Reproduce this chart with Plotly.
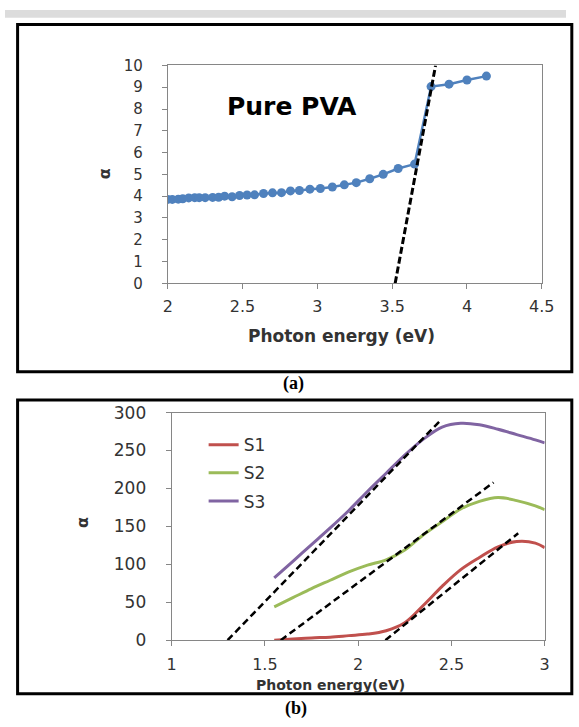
import plotly.graph_objects as go

# ---------------- data: panel (a) pure PVA ----------------
pva_energy = [2.00, 2.03, 2.07, 2.10, 2.14, 2.18, 2.21, 2.25, 2.30, 2.34, 2.38,
              2.43, 2.48, 2.53, 2.58, 2.64, 2.70, 2.76, 2.82, 2.88, 2.95, 3.02,
              3.10, 3.18, 3.26, 3.35, 3.44, 3.54, 3.65, 3.76, 3.88, 4.00, 4.13]
pva_alpha = [3.85, 3.85, 3.86, 3.88, 3.92, 3.93, 3.93, 3.93, 3.94, 3.95, 4.00,
             3.97, 4.03, 4.05, 4.06, 4.12, 4.15, 4.16, 4.24, 4.26, 4.32, 4.35,
             4.42, 4.52, 4.62, 4.80, 5.00, 5.27, 5.47, 9.03, 9.14, 9.33, 9.51]
pva_fit_energy = [3.52, 3.79]
pva_fit_alpha = [0, 10]

# ---------------- data: panel (b) S1, S2, S3 ----------------
energy_b = [1.55, 1.65, 1.75, 1.85, 1.95, 2.05, 2.15, 2.25, 2.35, 2.45,
            2.55, 2.65, 2.75, 2.85, 2.95, 3.00]
s1_alpha = [0, 1.5, 3, 4, 6, 8, 12.5, 23, 46, 71, 93, 109, 123, 130, 128, 122]
s2_alpha = [44, 56, 68, 79, 90, 99, 106, 119, 139, 156, 173, 183, 188, 184, 177, 172]
s3_alpha = [82, 104, 126, 148, 171, 196, 220, 244, 265, 281, 286, 284, 278, 271, 264, 260]
series_names = ["S1", "S2", "S3"]

s1_fit_energy = [2.146, 2.858]
s1_fit_alpha = [0, 141]
s2_fit_energy = [1.585, 2.726]
s2_fit_alpha = [0, 208]
s3_fit_energy = [1.30, 2.446]
s3_fit_alpha = [0, 291]

W, H = 579, 727


def px(x):
    return x / W


def py(y):
    return 1 - y / H


BLUE = "#4F81BD"
RED = "#C0504D"
GREEN = "#9BBB59"
PURPLE = "#8064A2"
AXIS = "#868686"
TXT = "#333333"
FONT = "DejaVu Sans"

fig = go.Figure()

# panel (a)
fig.add_trace(go.Scatter(
    x=pva_energy, y=pva_alpha, mode="lines+markers",
    line=dict(color=BLUE, width=2.5), marker=dict(color=BLUE, size=9),
    showlegend=False, xaxis="x", yaxis="y"))
fig.add_trace(go.Scatter(
    x=pva_fit_energy, y=pva_fit_alpha, mode="lines",
    line=dict(color="black", width=3, dash="7px,3px"),
    showlegend=False, xaxis="x", yaxis="y"))

# panel (b)
for name, vals, col in zip(series_names, [s1_alpha, s2_alpha, s3_alpha], [RED, GREEN, PURPLE]):
    fig.add_trace(go.Scatter(
        x=energy_b, y=vals, mode="lines", name=name, legendgroup=name,
        line=dict(color=col, width=3, shape="spline", smoothing=1),
        xaxis="x2", yaxis="y2"))
for fx, fy in [(s1_fit_energy, s1_fit_alpha), (s2_fit_energy, s2_fit_alpha), (s3_fit_energy, s3_fit_alpha)]:
    fig.add_trace(go.Scatter(
        x=fx, y=fy, mode="lines", showlegend=False,
        line=dict(color="black", width=2.5, dash="7px,4px"),
        xaxis="x2", yaxis="y2"))

axis_common = dict(showline=True, linecolor=AXIS, linewidth=1, mirror=True,
                   showgrid=False, zeroline=False, ticks="outside", tickcolor=AXIS,
                   ticklen=5, fixedrange=True)

def ann(text, x, y, size, color=TXT, family=FONT, angle=0):
    return dict(text=text, x=px(x), y=py(y), xref="paper", yref="paper",
                xanchor="center", yanchor="middle", showarrow=False, textangle=angle,
                font=dict(size=size, color=color, family=family))

fig.update_layout(
    width=W, height=H,
    margin=dict(l=0, r=0, t=0, b=0),
    paper_bgcolor="white", plot_bgcolor="white",
    font=dict(family=FONT, color=TXT),
    xaxis=dict(domain=[px(168), px(554)], range=[2, 4.5], dtick=0.5,
               tickfont=dict(size=16, color=TXT), anchor="y",
               ticklabelstandoff=4, **axis_common),
    yaxis=dict(domain=[py(281), py(57)], range=[0, 10], dtick=1,
               tickfont=dict(size=15, color=TXT), anchor="x",
               ticklabelstandoff=16, **axis_common),
    xaxis2=dict(domain=[px(172), px(557)], range=[1, 3], dtick=0.5,
                tickfont=dict(size=16, color=TXT), anchor="y2",
                ticklabelstandoff=5, **axis_common),
    yaxis2=dict(domain=[py(648), py(414)], range=[0, 300], dtick=50,
                tickfont=dict(size=17, color=TXT), anchor="x2",
                ticklabelstandoff=16, **axis_common),
    legend=dict(x=px(205), y=py(429), xanchor="left", yanchor="top",
                bgcolor="rgba(0,0,0,0)", font=dict(size=17, color=TXT),
                tracegroupgap=3, itemwidth=30),
    shapes=[
        dict(type="rect", xref="paper", yref="paper", x0=0, x1=1, y0=py(8), y1=1,
             fillcolor="#dcdcdc", line=dict(width=0), layer="below"),
        dict(type="rect", xref="paper", yref="paper", x0=px(13), x1=px(585),
             y0=py(372), y1=py(15), line=dict(color="black", width=3)),
        dict(type="rect", xref="paper", yref="paper", x0=px(13), x1=px(585),
             y0=py(703), y1=py(401), line=dict(color="black", width=3)),
    ],
    annotations=[
        ann("<b>Pure PVA</b>", 296, 99, 25, color="black"),
        ann("<b>Photon energy (eV)</b>", 347, 335, 17),
        ann("<b>α</b>", 103, 168, 16, angle=-90),
        ann("<b>Photon energy(eV)</b>", 336, 694, 14),
        ann("<b>α</b>", 80, 527, 16, angle=-90),
        ann("<b>(a)</b>", 298, 384, 18, color="black", family="Liberation Serif"),
        ann("<b>(b)</b>", 300, 718, 18, color="black", family="Liberation Serif"),
    ],
)

fig.write_html("out.html")
